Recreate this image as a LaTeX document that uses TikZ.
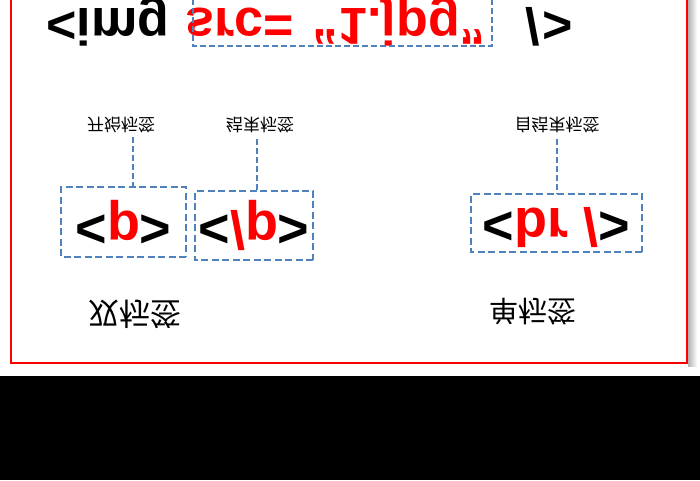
\documentclass[tikz,border=0pt]{standalone}
\usepackage{fontspec}
\setmainfont{Liberation Sans}
\newfontfamily\cjkfont{Noto Sans CJK SC}
\usetikzlibrary{positioning}
\definecolor{tagblue}{HTML}{4F81BD}
\tikzset{
  tagtext/.style={inner sep=0pt, transform shape, font=\bfseries\fontsize{52}{60}\selectfont},
  tagbox/.style={draw=tagblue, line width=1.5pt, dash pattern=on 7pt off 3.5pt, inner sep=0pt,
    transform shape, anchor=base, font=\bfseries\fontsize{54}{60}\selectfont},
  link/.style={draw=tagblue, line width=1.5pt, dash pattern=on 6pt off 3pt},
  caption/.style={inner sep=0pt, transform shape, font=\cjkfont\fontsize{17}{20}\selectfont},
  bigcaption/.style={caption, font=\cjkfont\fontsize{29}{32}\selectfont}
}

\begin{document}
\begin{tikzpicture}[x=1pt, y=1pt, yscale=-1]
\useasboundingbox (0,0) rectangle (700,480);
\clip (0,0) rectangle (700,480);
%\draw[help lines] (0,0) grid[step=50] (700,480);
\fill[white] (0,0) rectangle (700,480);
\shade[left color=black!30, right color=white] (688,-10) rectangle (697,366);
\draw[red, line width=2pt] (11,-10) -- (11,363) -- (687,363) -- (687,-10);
\fill[black] (0,376) rectangle (700,480);
% img tag
\node[tagtext, anchor=base west] (imgTag) at (46,8) {<img};
\node[tagtext, anchor=base west, text=red] (srcAttr) at (185,8) {src=\hspace{19pt}“1.jpg”};
\node[tagtext, anchor=base west] (closeTag) at (525,8) {/\hspace{3pt}>};
\draw[link] (193,-10) rectangle (492,46);
% boxes
\node[tagbox, text height=46pt, text depth=24pt, minimum width=125pt] (boxStart) at (123.5,211) {<\textcolor{red}{p}>};
\node[tagbox, text height=49pt, text depth=20pt, minimum width=118pt] (boxEnd) at (254,211) {<\textcolor{red}{/p}>};
\node[tagbox, text height=44pt, text depth=14pt, minimum width=171pt] (boxSelf) at (556.5,208) {<\textcolor{red}{br /}>};
% labels
\node[caption] (lblStart) at (121,125) {开始标签};
\node[caption] (lblEnd) at (260,125) {结束标签};
\node[caption] (lblSelf) at (557,125) {自结束标签};
\coordinate (stubA) at (133,137);
\coordinate (stubB) at (257,139);
\coordinate (stubC) at (557,139);
\draw[link] (stubA) -- (stubA |- boxStart.south);
\draw[link] (stubB) -- (stubB |- boxEnd.south);
\draw[link] (stubC) -- (stubC |- boxSelf.south);
\node[bigcaption, font=\cjkfont\fontsize{31}{34}\selectfont] (lblPair) at (135,314) {双标签};
\node[bigcaption] (lblSingle) at (533,312) {单标签};
\end{tikzpicture}
\end{document}
